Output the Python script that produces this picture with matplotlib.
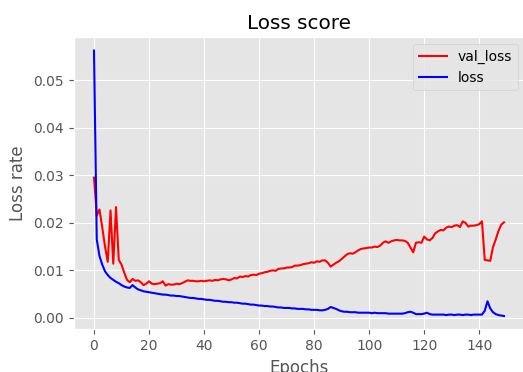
import numpy as np
import matplotlib
matplotlib.use("Agg")
import matplotlib.pyplot as plt

plt.style.use("ggplot")

# values, one per epoch (0..149)
val_loss = [
    0.0295, 0.0215, 0.0228, 0.0190, 0.0150, 0.0118, 0.0226, 0.0114, 0.0233, 0.0122,
    0.0112, 0.0095, 0.0080, 0.0075, 0.0082, 0.0078, 0.0079, 0.0075, 0.0069, 0.0072,
    0.0077, 0.0072, 0.0071, 0.0072, 0.0073, 0.0077, 0.0068, 0.0071, 0.0070, 0.0070,
    0.0072, 0.0071, 0.0073, 0.0076, 0.0079, 0.0078, 0.0078, 0.0077, 0.0077, 0.0078,
    0.0077, 0.0078, 0.0079, 0.0078, 0.0080, 0.0079, 0.0081, 0.0082, 0.0081, 0.0079,
    0.0081, 0.0084, 0.0083, 0.0087, 0.0086, 0.0088, 0.0087, 0.0090, 0.0091, 0.0090,
    0.0093, 0.0094, 0.0096, 0.0097, 0.0099, 0.0100, 0.0099, 0.0103, 0.0104, 0.0104,
    0.0106, 0.0106, 0.0107, 0.0110, 0.0110, 0.0111, 0.0113, 0.0114, 0.0115, 0.0117,
    0.0116, 0.0119, 0.0118, 0.0121, 0.0121, 0.0116, 0.0108, 0.0112, 0.0116, 0.0119,
    0.0124, 0.0129, 0.0134, 0.0136, 0.0135, 0.0138, 0.0142, 0.0145, 0.0146, 0.0147,
    0.0148, 0.0148, 0.0150, 0.0149, 0.0152, 0.0158, 0.0161, 0.0158, 0.0161, 0.0163,
    0.0164, 0.0163, 0.0163, 0.0162, 0.0158, 0.0148, 0.0138, 0.0158, 0.0159, 0.0158,
    0.0171, 0.0165, 0.0163, 0.0168, 0.0178, 0.0182, 0.0185, 0.0184, 0.0190, 0.0192,
    0.0191, 0.0194, 0.0195, 0.0191, 0.0203, 0.0200, 0.0192, 0.0194, 0.0194, 0.0195,
    0.0197, 0.0203, 0.0122, 0.0121, 0.0120, 0.0149, 0.0165, 0.0183, 0.0196, 0.0201,
]

loss = [
    0.0562, 0.0165, 0.0130, 0.0112, 0.0098, 0.0090, 0.0084, 0.0080, 0.0076, 0.0073,
    0.0069, 0.0066, 0.0064, 0.0063, 0.0069, 0.0064, 0.0060, 0.0058, 0.0056, 0.0055,
    0.0054, 0.0053, 0.0052, 0.0051, 0.0050, 0.0049, 0.0049, 0.0048, 0.0047, 0.0047,
    0.0046, 0.0046, 0.0045, 0.0044, 0.0043, 0.0042, 0.0042, 0.0041, 0.0040, 0.0040,
    0.0039, 0.0038, 0.0038, 0.0037, 0.0036, 0.0036, 0.0035, 0.0034, 0.0034, 0.0033,
    0.0033, 0.0032, 0.0032, 0.0031, 0.0030, 0.0030, 0.0029, 0.0028, 0.0028, 0.0027,
    0.0026, 0.0026, 0.0025, 0.0025, 0.0024, 0.0024, 0.0023, 0.0022, 0.0022, 0.0021,
    0.0021, 0.0021, 0.0020, 0.0020, 0.0019, 0.0019, 0.0019, 0.0018, 0.0018, 0.0017,
    0.0017, 0.0017, 0.0016, 0.0016, 0.0017, 0.0019, 0.0023, 0.0021, 0.0019, 0.0016,
    0.0014, 0.0013, 0.0013, 0.0012, 0.0012, 0.0012, 0.0011, 0.0011, 0.0011, 0.0011,
    0.0011, 0.0010, 0.0011, 0.0010, 0.0010, 0.0010, 0.0010, 0.0009, 0.0009, 0.0009,
    0.0009, 0.0009, 0.0009, 0.0010, 0.0012, 0.0013, 0.0011, 0.0008, 0.0008, 0.0008,
    0.0009, 0.0011, 0.0008, 0.0007, 0.0007, 0.0007, 0.0007, 0.0007, 0.0006, 0.0007,
    0.0007, 0.0006, 0.0007, 0.0007, 0.0006, 0.0007, 0.0007, 0.0006, 0.0007, 0.0007,
    0.0007, 0.0007, 0.0015, 0.0035, 0.0020, 0.0012, 0.0008, 0.0006, 0.0005, 0.0004,
]

fig = plt.figure(figsize=(5.23, 3.72), dpi=100)
ax = fig.add_axes([73.5 / 523, 42.7 / 372, 451 / 523, 292 / 372])

ax.plot(val_loss, color="red", label="val_loss")
ax.plot(loss, color="blue", label="loss")
ax.set_title("Loss score")
ax.set_xlabel("Epochs")
ax.set_ylabel("Loss rate")
ax.legend(loc="upper right")

fig.savefig("out.png", dpi=100)
